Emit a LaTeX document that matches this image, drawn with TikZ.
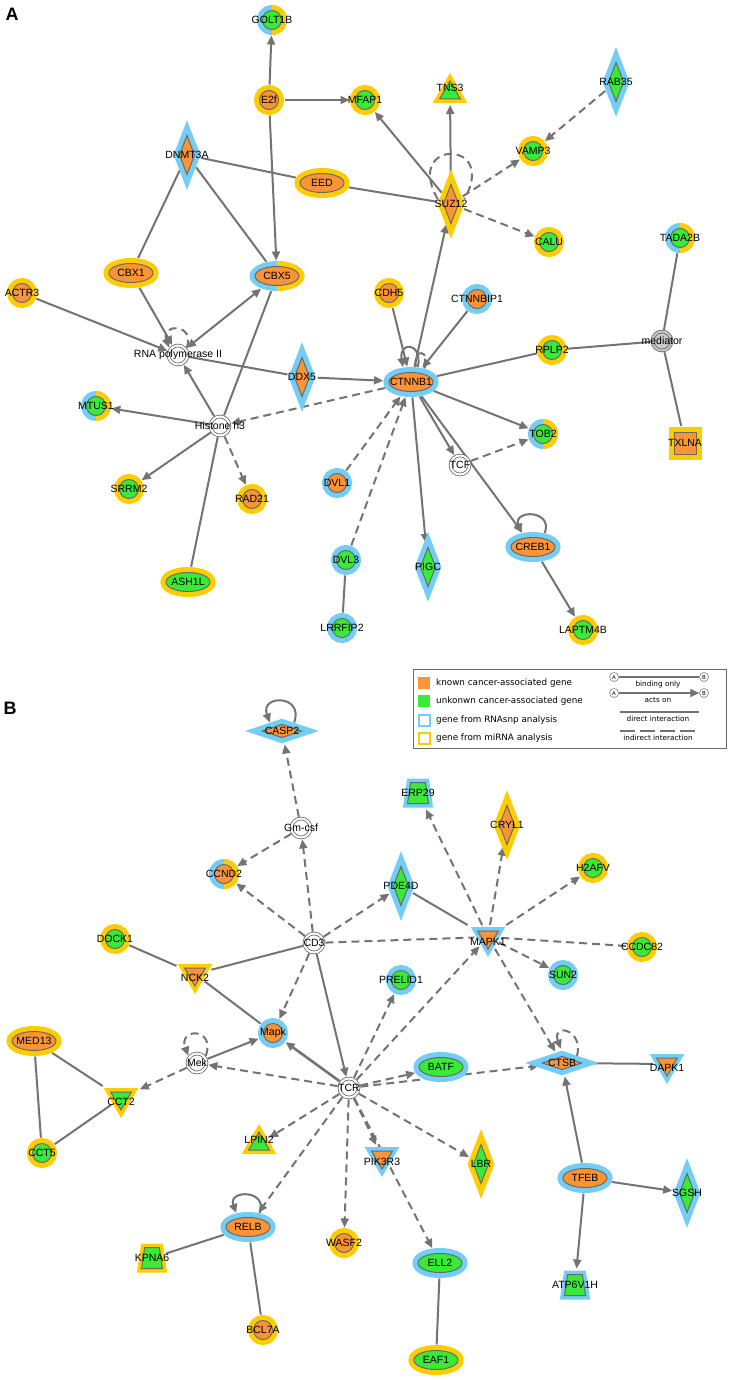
\documentclass[tikz,border=0pt]{standalone}
\usepackage{fontspec}
\setsansfont{Liberation Sans}
\newfontfamily\legendfont{DejaVu Sans}
\usetikzlibrary{shapes.geometric, arrows.meta}
\definecolor{orng}{RGB}{250,148,55}
\definecolor{grn}{RGB}{55,235,55}
\definecolor{blu}{RGB}{115,205,245}
\definecolor{yel}{RGB}{255,204,0}
\definecolor{bord}{RGB}{105,105,105}
\definecolor{edg}{RGB}{115,115,115}
\definecolor{medg}{RGB}{200,200,200}
\pgfdeclarelayer{background}
\pgfdeclarelayer{edges}
\pgfsetlayers{background,edges,main}
% halo split in two: RNAsnp (left) and miRNA (right)
\newcommand{\halfhalo}[3]{%
  \fill[blu] (#1.center) ellipse [x radius=#2pt, y radius=#3pt];
  \fill[yel] (#1.center) ++(0pt,#3pt) arc [start angle=90, end angle=-90, x radius=#2pt, y radius=#3pt] -- cycle;}

\begin{document}
\begin{tikzpicture}[x=1pt, y=-1pt]
    \tikzset{gene/.style = {draw=bord, line width=1pt, inner sep=0pt, outer sep=6pt}}
    \tikzset{gcirc/.style = {gene, circle, minimum size=19pt}}
    \tikzset{gell/.style = {gene, ellipse, minimum width=44pt, minimum height=19pt}}
    \tikzset{gdia/.style = {gene, diamond, minimum width=20pt, minimum height=44pt}}
    \tikzset{gwdia/.style = {gene, diamond, minimum width=44pt, minimum height=18pt}}
    \tikzset{gup/.style = {gene, regular polygon, regular polygon sides=3, minimum size=24pt}}
    \tikzset{gdown/.style = {gup, regular polygon rotate=180}}
    \tikzset{gtrap/.style = {gene, trapezium, inner sep=2pt, trapezium left angle=78, trapezium right angle=78, trapezium stretches=true, minimum width=21pt, minimum height=21pt}}
    \tikzset{gsq/.style = {gene, rectangle, minimum size=22pt}}
    \tikzset{cplx/.style = {circle, draw=bord, line width=0.8pt, double=white, double distance=2pt, fill=white, minimum size=19pt, inner sep=0pt, outer sep=2pt}}
    \tikzset{kn/.style = {fill=orng}, un/.style = {fill=grn}}
    \tikzset{rna/.style = {preaction={draw=blu, line width=#1}}, rna/.default=11pt}
    \tikzset{mir/.style = {preaction={draw=yel, line width=#1}}, mir/.default=11pt}
    \tikzset{lbl/.style = {font=\sffamily\fontsize{10.5}{12}\selectfont, inner sep=0pt}}
    \tikzset{lnk/.style = {draw=edg, line width=2pt}}
    \tikzset{act/.style = {lnk, -{Triangle[length=9pt,width=8pt]}}}
    \tikzset{bact/.style = {lnk, {Triangle[length=9pt,width=8pt]}-{Triangle[length=9pt,width=8pt]}}}
    \tikzset{dlnk/.style = {lnk, dash pattern=on 8pt off 5pt}}
    \tikzset{dact/.style = {act, dash pattern=on 8pt off 5pt}}
    \tikzset{ltxt/.style = {font=\legendfont\fontsize{8.8}{10}\selectfont, inner sep=0pt, anchor=west}}
    \tikzset{ltxts/.style = {font=\legendfont\fontsize{7.3}{8}\selectfont, inner sep=0pt}}
    \tikzset{lsq/.style = {rectangle, minimum size=12pt, inner sep=0pt}}
    \tikzset{abc/.style = {circle, draw=bord, line width=0.5pt, fill=white, minimum size=9pt, inner sep=0pt, font=\legendfont\fontsize{5.5}{6}\selectfont}}

    \useasboundingbox (0,0) rectangle (733,1380);

    \node[font=\sffamily\bfseries\fontsize{18}{20}\selectfont] (pa) at (12,14) {A};
    \node[font=\sffamily\bfseries\fontsize{18}{20}\selectfont] (pb) at (10,708) {B};

    % panel A
    \node[gcirc, un, label={[lbl]center:GOLT1B}] (GOLT1B) at (272,20) {};
    \node[gcirc, kn, mir, label={[lbl]center:E2f}] (E2f) at (269,100) {};
    \node[gcirc, un, mir, label={[lbl]center:MFAP1}] (MFAP1) at (365,100) {};
    \node[gup, un, mir=8pt, label={[lbl,yshift=5pt]center:TNS3}] (TNS3) at (450,93) {};
    \node[gdia, un, rna, label={[lbl]center:RAB35}] (RAB35) at (616,82) {};
    \node[gdia, kn, rna, label={[lbl]center:DNMT3A}] (DNMT3A) at (187,155) {};
    \node[gcirc, un, mir, label={[lbl]center:VAMP3}] (VAMP3) at (533,151) {};
    \node[gell, kn, mir, label={[lbl]center:EED}] (EED) at (322,183) {};
    \node[gdia, kn, mir, label={[lbl]center:SUZ12}] (SUZ12) at (451,204) {};
    \node[gcirc, un, mir, label={[lbl]center:CALU}] (CALU) at (549,242) {};
    \node[gcirc, un, label={[lbl]center:TADA2B}] (TADA2B) at (680,238) {};
    \node[gell, kn, mir, label={[lbl]center:CBX1}] (CBX1) at (131,273) {};
    \node[gell, kn, label={[lbl]center:CBX5}] (CBX5) at (277,276) {};
    \node[gcirc, kn, mir, label={[lbl]center:ACTR3}] (ACTR3) at (22,293) {};
    \node[gcirc, kn, mir, label={[lbl]center:CDH5}] (CDH5) at (389,293) {};
    \node[gcirc, kn, rna, label={[lbl]center:CTNNBIP1}] (CTNNBIP1) at (477,299) {};
    \node[cplx, label={[lbl]center:RNA polymerase II}] (rnapol) at (178,355) {};
    \node[gcirc, un, mir, label={[lbl]center:RPLP2}] (RPLP2) at (552,350) {};
    \node[cplx, fill=medg, double=medg, label={[lbl]center:mediator}] (mediator) at (662,341) {};
    \node[gdia, kn, rna, label={[lbl]center:DDX5}] (DDX5) at (302,377) {};
    \node[gell, kn, rna, label={[lbl]center:CTNNB1}] (CTNNB1) at (411,382) {};
    \node[gcirc, un, label={[lbl]center:MTUS1}] (MTUS1) at (96,406) {};
    \node[cplx, label={[lbl]center:Histone h3}] (histone) at (220,426) {};
    \node[gcirc, un, label={[lbl]center:TOB2}] (TOB2) at (543,434) {};
    \node[gsq, kn, mir, label={[lbl]center:TXLNA}] (TXLNA) at (685,443) {};
    \node[cplx, label={[lbl]center:TCF}] (TCF) at (460,465) {};
    \node[gcirc, kn, rna, label={[lbl]center:DVL1}] (DVL1) at (337,483) {};
    \node[gcirc, un, mir, label={[lbl]center:SRRM2}] (SRRM2) at (129,489) {};
    \node[gcirc, kn, mir, label={[lbl]center:RAD21}] (RAD21) at (252,499) {};
    \node[gell, kn, rna, label={[lbl]center:CREB1}] (CREB1) at (533,547) {};
    \node[gcirc, un, rna, label={[lbl]center:DVL3}] (DVL3) at (346,560) {};
    \node[gdia, un, rna, label={[lbl]center:PIGC}] (PIGC) at (428,567) {};
    \node[gell, un, mir, label={[lbl]center:ASH1L}] (ASH1L) at (188,582) {};
    \node[gcirc, un, rna, label={[lbl]center:LRRFIP2}] (LRRFIP2) at (342,628) {};
    \node[gcirc, un, mir, label={[lbl]center:LAPTM4B}] (LAPTM4B) at (583,630) {};

    % panel B
    \node[gwdia, kn, rna, label={[lbl]center:CASP2}] (CASP2) at (282,731) {};
    \node[gtrap, un, rna=8pt, label={[lbl]center:ERP29}] (ERP29) at (418,793) {};
    \node[gdia, kn, mir, label={[lbl]center:CRYL1}] (CRYL1) at (507,825) {};
    \node[cplx, label={[lbl]center:Gm-csf}] (gmcsf) at (301,828) {};
    \node[gcirc, un, mir, label={[lbl]center:H2AFV}] (H2AFV) at (593,868) {};
    \node[gcirc, kn, label={[lbl]center:CCND2}] (CCND2) at (224,874) {};
    \node[gdia, un, rna, label={[lbl]center:PDE4D}] (PDE4D) at (401,886) {};
    \node[gcirc, un, mir, label={[lbl]center:DOCK1}] (DOCK1) at (115,939) {};
    \node[cplx, label={[lbl]center:CD3}] (CD3) at (314,943) {};
    \node[gdown, kn, rna=8pt, label={[lbl,yshift=-5pt]center:MAPK1}] (MAPK1) at (488,937) {};
    \node[gcirc, un, mir, label={[lbl]center:CCDC82}] (CCDC82) at (642,947) {};
    \node[gcirc, un, rna, label={[lbl]center:SUN2}] (SUN2) at (563,975) {};
    \node[gdown, kn, mir=8pt, label={[lbl,yshift=-4pt]center:NCK2}] (NCK2) at (195,974) {};
    \node[gcirc, un, rna, label={[lbl]center:PRELID1}] (PRELID1) at (401,980) {};
    \node[gcirc, kn, rna, label={[lbl]center:Mapk}] (Mapk) at (273,1033) {};
    \node[gell, kn, mir, label={[lbl]center:MED13}] (MED13) at (34,1041) {};
    \node[cplx, label={[lbl]center:Mek}] (Mek) at (197,1063) {};
    \node[gell, un, rna, label={[lbl]center:BATF}] (BATF) at (441,1067) {};
    \node[gwdia, kn, rna, label={[lbl]center:CTSB}] (CTSB) at (562,1063) {};
    \node[gdown, kn, rna=8pt, label={[lbl,yshift=-4pt]center:DAPK1}] (DAPK1) at (667,1064) {};
    \node[cplx, label={[lbl]center:TCR}] (TCR) at (349,1088) {};
    \node[gdown, un, mir=8pt, label={[lbl,yshift=-4pt]center:CCT2}] (CCT2) at (121,1098) {};
    \node[gup, un, mir=8pt, label={[lbl,yshift=4pt]center:LPIN2}] (LPIN2) at (259,1144) {};
    \node[gcirc, un, mir, label={[lbl]center:CCT5}] (CCT5) at (42,1153) {};
    \node[gdown, kn, rna=8pt, label={[lbl,yshift=-5pt]center:PIK3R3}] (PIK3R3) at (382,1157) {};
    \node[gdia, un, mir, label={[lbl]center:LBR}] (LBR) at (481,1164) {};
    \node[gell, kn, rna, label={[lbl]center:TFEB}] (TFEB) at (585,1178) {};
    \node[gdia, un, rna, label={[lbl]center:SGSH}] (SGSH) at (687,1193) {};
    \node[gell, kn, rna, label={[lbl]center:RELB}] (RELB) at (248,1227) {};
    \node[gcirc, kn, mir, label={[lbl]center:WASF2}] (WASF2) at (344,1243) {};
    \node[gtrap, un, mir=8pt, label={[lbl]center:KPNA6}] (KPNA6) at (152,1258) {};
    \node[gell, un, rna, label={[lbl]center:ELL2}] (ELL2) at (440,1263) {};
    \node[gtrap, un, rna=8pt, label={[lbl]center:ATP6V1H}] (ATP6V1H) at (575,1285) {};
    \node[gcirc, kn, mir, label={[lbl]center:BCL7A}] (BCL7A) at (263,1330) {};
    \node[gell, un, mir, label={[lbl]center:EAF1}] (EAF1) at (436,1360) {};

    \begin{pgfonlayer}{background}
        \halfhalo{GOLT1B}{15}{15}
        \halfhalo{TADA2B}{15}{15}
        \halfhalo{MTUS1}{15}{15}
        \halfhalo{TOB2}{15}{15}
        \halfhalo{CCND2}{15}{15}
        \halfhalo{CBX5}{27.5}{15}
    \end{pgfonlayer}

    \begin{pgfonlayer}{edges}
        % panel A
        \draw[act] (E2f) -- (GOLT1B);
        \draw[act] (E2f) -- (MFAP1);
        \draw[act] (E2f) -- (CBX5);
        \draw[lnk] (DNMT3A) -- (EED);
        \draw[lnk] (EED) -- (SUZ12);
        \draw[lnk] (DNMT3A) -- (CBX1);
        \draw[lnk] (DNMT3A) -- (CBX5);
        \draw[act] (CBX1) -- (rnapol);
        \draw[act] (ACTR3) -- (rnapol);
        \draw[bact] (rnapol) -- (CBX5);
        \draw[dact] (rnapol.40) .. controls +(70:26pt) and +(110:26pt) .. (rnapol.140);
        \draw[lnk] (rnapol) -- (DDX5);
        \draw[act] (DDX5) -- (CTNNB1);
        \draw[act] (histone) -- (rnapol);
        \draw[lnk] (histone) -- (CBX5);
        \draw[act] (histone) -- (MTUS1);
        \draw[act] (histone) -- (SRRM2);
        \draw[dact] (histone) -- (RAD21);
        \draw[lnk] (histone) -- (ASH1L);
        \draw[dact] (CTNNB1) -- (histone);
        \draw[act] (SUZ12) -- (MFAP1);
        \draw[act] (SUZ12) -- (TNS3);
        \draw[dact] (SUZ12) -- (VAMP3);
        \draw[dact] (RAB35) -- (VAMP3);
        \draw[dact] (SUZ12) -- (CALU);
        \draw[dlnk] (SUZ12.160) .. controls +(120:70pt) and +(60:70pt) .. (SUZ12.20);
        \draw[act] (CTNNB1) -- (SUZ12);
        \draw[act] (CDH5) -- (CTNNB1);
        \draw[act] (CTNNBIP1) -- (CTNNB1);
        \draw[act] (CTNNB1.65) .. controls +(80:26pt) and +(100:26pt) .. (CTNNB1.118);
        \draw[dlnk] (CTNNB1.45) .. controls +(70:20pt) and +(100:20pt) .. (CTNNB1.72);
        \draw[lnk] (CTNNB1) -- (RPLP2);
        \draw[lnk] (RPLP2) -- (mediator);
        \draw[lnk] (mediator) -- (TADA2B);
        \draw[lnk] (mediator) -- (TXLNA);
        \draw[act] (CTNNB1) -- (TOB2);
        \draw[act] (CTNNB1) -- (TCF);
        \draw[dact] (TCF) -- (TOB2);
        \draw[act] (CTNNB1) -- (CREB1);
        \draw[act] (CTNNB1) -- (PIGC);
        \draw[act] (CREB1.50) .. controls +(70:25pt) and +(110:25pt) .. (CREB1.130);
        \draw[act] (CREB1) -- (LAPTM4B);
        \draw[dact] (DVL1) -- (CTNNB1);
        \draw[dact] (DVL3) -- (CTNNB1);
        \draw[lnk] (DVL3) -- (LRRFIP2);

        % panel B
        \draw[act] (CASP2.35) .. controls +(70:30pt) and +(110:30pt) .. (CASP2.145);
        \draw[dact] (gmcsf) -- (CASP2);
        \draw[dact] (gmcsf) -- (CCND2);
        \draw[dact] (CD3) -- (gmcsf);
        \draw[dact] (CD3) -- (CCND2);
        \draw[dact] (CD3) -- (PDE4D);
        \draw[dlnk] (CD3) -- (MAPK1);
        \draw[lnk] (CD3) -- (NCK2);
        \draw[lnk] (DOCK1) -- (NCK2);
        \draw[lnk] (NCK2) -- (Mapk);
        \draw[dact] (CD3) -- (Mapk);
        \draw[act] (CD3) -- (TCR);
        \draw[act] (Mek) -- (Mapk);
        \draw[dact] (Mek.40) .. controls +(70:30pt) and +(110:30pt) .. (Mek.140);
        \draw[dact] (TCR) -- (Mek);
        \draw[act, line width=2.6pt] (TCR) -- (Mapk);
        \draw[dact] (Mek) -- (CCT2);
        \draw[lnk] (MED13) -- (CCT2);
        \draw[lnk] (MED13) -- (CCT5);
        \draw[lnk] (CCT5) -- (CCT2);
        \draw[dact] (TCR) -- (LPIN2);
        \draw[dact] (TCR) -- (RELB);
        \draw[act] (RELB.50) .. controls +(70:25pt) and +(110:25pt) .. (RELB.130);
        \draw[lnk] (RELB) -- (KPNA6);
        \draw[lnk] (RELB) -- (BCL7A);
        \draw[dact] (TCR) -- (WASF2);
        \draw[dact] (TCR) -- (PIK3R3);
        \draw[dact] (TCR) -- (ELL2);
        \draw[dact] (TCR) -- (LBR);
        \draw[dact] (TCR) -- (BATF);
        \draw[dact] (TCR) -- (CTSB);
        \draw[dact] (TCR) -- (PRELID1);
        \draw[dact] (TCR) -- (MAPK1);
        \draw[dact] (MAPK1) -- (ERP29);
        \draw[dact] (MAPK1) -- (CRYL1);
        \draw[dact] (MAPK1) -- (H2AFV);
        \draw[dact] (MAPK1) -- (SUN2);
        \draw[dlnk] (MAPK1) -- (CCDC82);
        \draw[dact] (MAPK1) -- (CTSB);
        \draw[lnk] (PDE4D) -- (MAPK1);
        \draw[dact] (CTSB.25) .. controls +(75:28pt) and +(110:28pt) .. (CTSB.95);
        \draw[lnk] (CTSB) -- (DAPK1);
        \draw[act] (TFEB) -- (CTSB);
        \draw[act] (TFEB) -- (SGSH);
        \draw[act] (TFEB) -- (ATP6V1H);
        \draw[lnk] (ELL2) -- (EAF1);
    \end{pgfonlayer}

    % legend
    \draw[draw=bord, line width=0.8pt] (413,669) rectangle (726,748);
    \node[lsq, fill=orng] (lkn) at (424,683) {};
    \node[lsq, fill=grn] (lun) at (424,701) {};
    \node[lsq, draw=blu, line width=2pt, fill=white, minimum size=11pt] (lrna) at (424,720) {};
    \node[lsq, draw=yel, line width=2pt, fill=white, minimum size=11pt] (lmir) at (424,738) {};
    \node[ltxt] (tkn) at (436,683) {known cancer-associated gene};
    \node[ltxt] (tun) at (436,701) {unkonwn cancer-associated gene};
    \node[ltxt] (trna) at (436,720) {gene from RNAsnp analysis};
    \node[ltxt] (tmir) at (436,738) {gene from miRNA analysis};
    \node[abc] (la1) at (614,677) {A};
    \node[abc] (lb1) at (704,677) {B};
    \node[abc] (la2) at (614,693) {A};
    \node[abc] (lb2) at (704,693) {B};
    \draw[lnk] (la1) -- (lb1);
    \draw[act] (la2) -- (lb2);
    \node[ltxts] (tbind) at (658,684) {binding only};
    \node[ltxts] (tacts) at (658,699.5) {acts on};
    \coordinate (d1) at (620,712);
    \coordinate (d2) at (699,712);
    \coordinate (i1) at (620,731);
    \coordinate (i2) at (699,731);
    \draw[lnk] (d1) -- (d2);
    \draw[lnk, dash pattern=on 15pt off 5pt] (i1) -- (i2);
    \node[ltxts] (tdir) at (658,718.5) {direct interaction};
    \node[ltxts] (tind) at (658,738) {indirect interaction};
\end{tikzpicture}
\end{document}
